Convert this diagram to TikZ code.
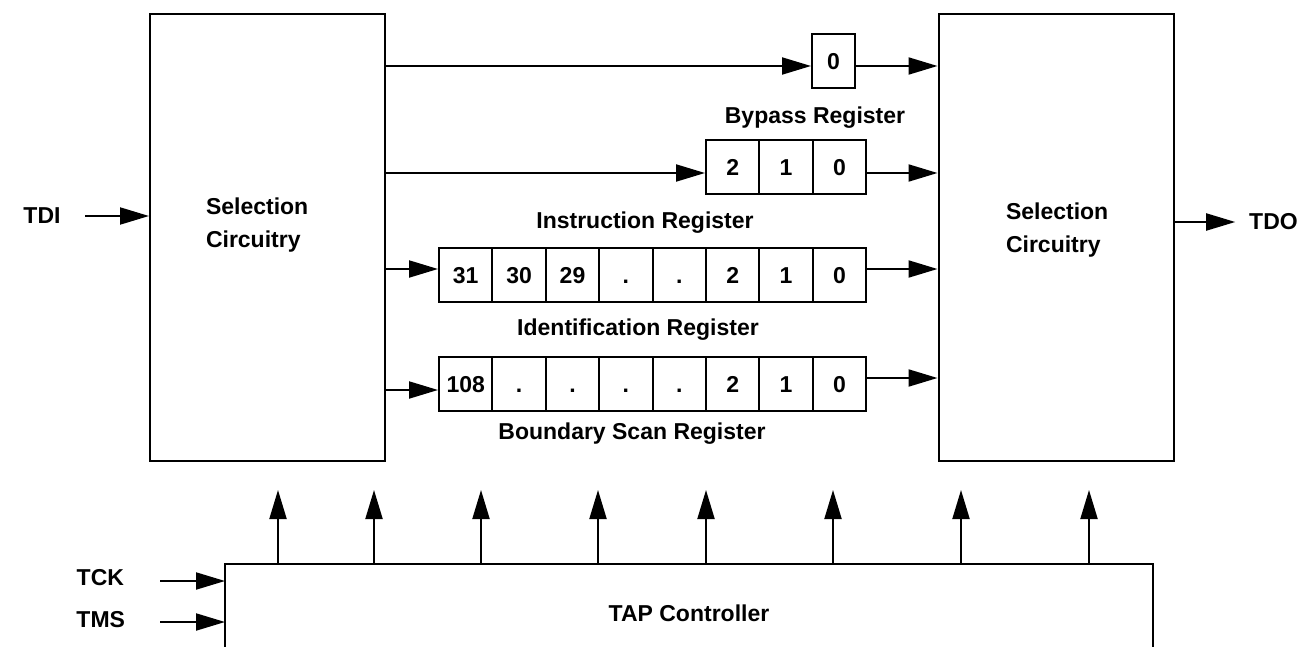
\documentclass[tikz,border=0pt]{standalone}
\usepackage{fontspec}
\setmainfont{Liberation Sans}
\usetikzlibrary{arrows.meta}
\begin{document}
\begin{tikzpicture}[x=1pt,y=-1pt,line width=2pt,
  every node/.style={font=\fontsize{23}{33}\selectfont\bfseries, inner sep=0pt},
  cell/.style={draw, line width=2pt, minimum width=53.4pt, minimum height=54pt, inner sep=0pt,
    text height=16.5pt, text depth=0pt, anchor=west},
  selbox/.style={draw, line width=2pt, minimum width=235pt, minimum height=447pt},
  arr/.style={-{Triangle[length=29pt,width=17pt]}}]
\useasboundingbox (0,0) rectangle (1303,647);

% selection circuitry boxes
\node[selbox] (selL) at (267.5,237.5) {};
\node[selbox] (selR) at (1056,237.5) {};
\node[anchor=west, align=left] (selLt) at (205,225.5) {Selection\\Circuitry};
\node[anchor=west, align=left] (selRt) at (1005,230.5) {Selection\\Circuitry};

% row 1: single bit
\node[cell, minimum width=43pt] (r1) at (811,61) {0};
% row 2: bypass (3 cells)
\foreach \t [count=\i from 0] in {2,1,0}
  \node[cell] (r2c\i) at (705+\i*53.4,167) {\t};
% row 3: 8 cells
\foreach \t [count=\i from 0] in {31,30,29,.,.,2,1,0}
  \node[cell] (r3c\i) at (438+\i*53.4,275) {\t};
% row 4: 8 cells
\foreach \t [count=\i from 0] in {108,.,.,.,.,2,1,0}
  \node[cell] (r4c\i) at (438+\i*53.4,384) {\t};

% register labels
\node (lbyp) at (815,118) {Bypass Register};
\node (lins) at (645,223) {Instruction Register};
\node (lid) at (638,330) {Identification Register};
\node (lbsr) at (632,434) {Boundary Scan Register};

% y levels of connectors
\coordinate (y1) at (0,66);
\coordinate (y2) at (0,173);
\coordinate (y3) at (0,269);
\coordinate (y4l) at (0,390);
\coordinate (y4r) at (0,378);

\draw[arr] (selL.east |- y1) -- (r1.west |- y1);
\draw[arr] (r1.east |- y1) -- (selR.west |- y1);
\draw[arr] (selL.east |- y2) -- (r2c0.west |- y2);
\draw[arr] (r2c2.east |- y2) -- (selR.west |- y2);
\draw[arr] (selL.east |- y3) -- (r3c0.west |- y3);
\draw[arr] (r3c7.east |- y3) -- (selR.west |- y3);
\draw[arr] (selL.east |- y4l) -- (r4c0.west |- y4l);
\draw[arr] (r4c7.east |- y4r) -- (selR.west |- y4r);

% TDI / TDO
\node (tdi) at (42,216) {TDI};
\coordinate (tdiS) at (85,216);
\draw[arr] (tdiS) -- (selL.west |- tdiS);
\node (tdo) at (1273.5,222) {TDO};
\draw[arr] (selR.east |- tdo) -- ([xshift=-13pt]tdo.west);

% TAP controller (open at the bottom)
\coordinate (tapNW) at (225,564);
\coordinate (tapNE) at (1153,564);
\draw (225,649) -- (tapNW) -- (tapNE) -- (1153,649);
\node (tap) at (689,613) {TAP Controller};

\foreach \x [count=\i] in {278,374,481,598,706,833,961,1089} {
  \coordinate (u\i) at (\x,490);
  \draw[arr] (tapNW -| u\i) -- (u\i);
}

% TCK / TMS
\node[anchor=east] (tck) at (125,578) {TCK};
\coordinate (tckS) at (160,581);
\draw[arr] (tckS) -- (tapNW |- tckS);
\node[anchor=east] (tms) at (126,620) {TMS};
\coordinate (tmsS) at (160,622);
\draw[arr] (tmsS) -- (tapNW |- tmsS);
\end{tikzpicture}
\end{document}
